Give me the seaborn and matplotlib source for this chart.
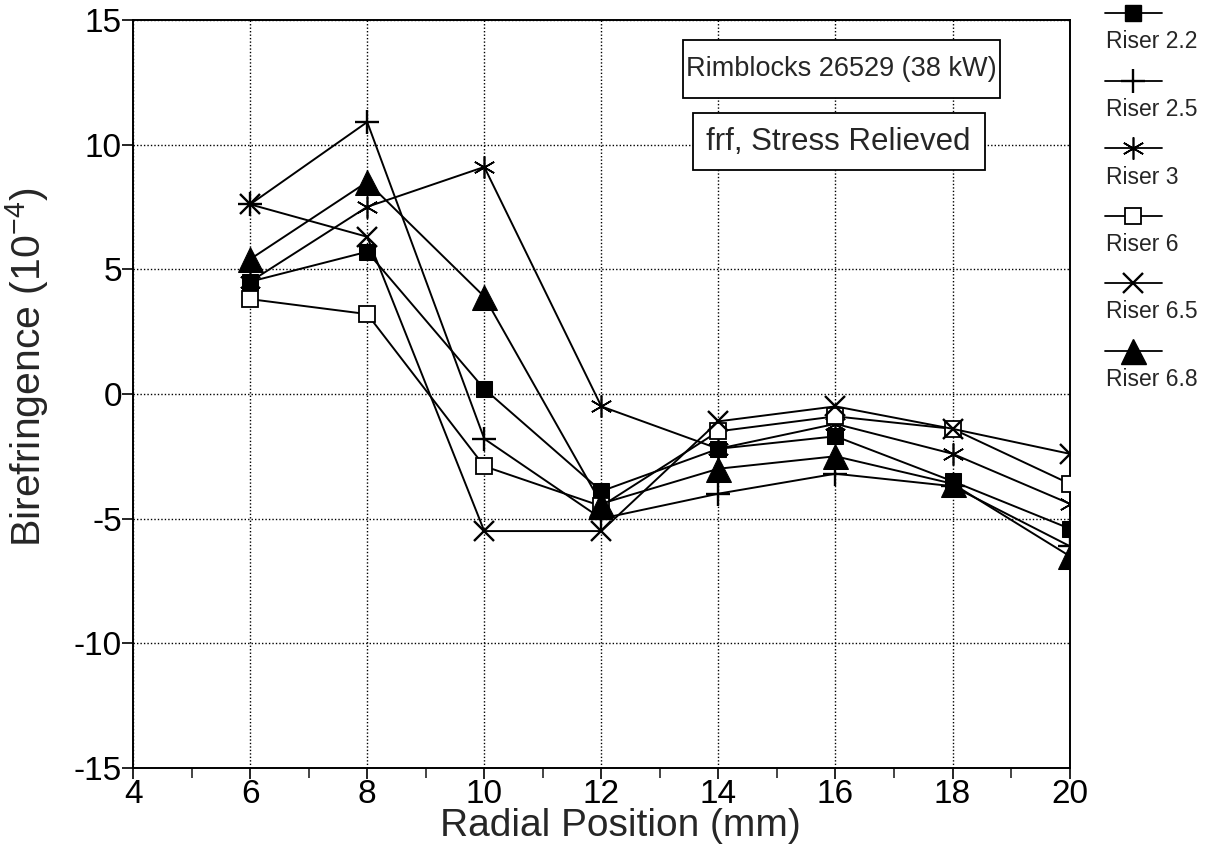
import matplotlib
matplotlib.use("Agg")
import matplotlib.pyplot as plt
from matplotlib.lines import Line2D
from matplotlib.patches import Rectangle
from matplotlib.ticker import MultipleLocator
import seaborn as sns

sns.set_theme(style="white")
plt.rcParams['font.family'] = ['Liberation Sans', 'DejaVu Sans']
plt.rcParams['mathtext.fontset'] = 'custom'
plt.rcParams['mathtext.rm'] = 'Liberation Sans'
plt.rcParams['mathtext.it'] = 'Liberation Sans'
plt.rcParams['axes.unicode_minus'] = False

# ---- data ----
radial_mm = [6, 8, 10, 12, 14, 16, 18, 20]
riser_2_2 = [4.5, 5.7, 0.2, -3.9, -2.2, -1.7, -3.5, -5.4]
riser_2_5 = [7.6, 10.9, -1.8, -5.0, -4.0, -3.2, -3.7, -6.1]
riser_3 = [4.5, 7.5, 9.1, -0.5, -2.2, -1.2, -2.4, -4.4]
riser_6 = [3.8, 3.2, -2.9, -4.5, -1.5, -0.9, -1.4, -3.6]
riser_6_5 = [7.6, 6.3, -5.5, -5.5, -1.1, -0.5, -1.4, -2.4]
riser_6_8 = [5.4, 8.5, 3.9, -4.4, -3.0, -2.5, -3.6, -6.5]
series_names = ["Riser 2.2", "Riser 2.5", "Riser 3", "Riser 6", "Riser 6.5", "Riser 6.8"]
x_ticks = [4, 6, 8, 10, 12, 14, 16, 18, 20]
y_ticks = [-15, -10, -5, 0, 5, 10, 15]

series_vals = [riser_2_2, riser_2_5, riser_3, riser_6, riser_6_5, riser_6_8]
styles = [
    dict(marker='s', markersize=11, markerfacecolor='black', markeredgecolor='black'),
    dict(marker='+', markersize=17, markeredgewidth=1.7, markeredgecolor='black'),
    dict(marker=(6, 2, 0), markersize=16, markeredgewidth=1.2, markeredgecolor='black'),
    dict(marker='s', markersize=11, markerfacecolor='white', markeredgecolor='black', markeredgewidth=1.3),
    dict(marker='x', markersize=14, markeredgewidth=1.7, markeredgecolor='black'),
    dict(marker='^', markersize=18, markerfacecolor='black', markeredgecolor='black'),
]

fig = plt.figure(figsize=(12.21, 8.61), dpi=100)
ax = fig.add_axes([0.109, 0.108, 0.767, 0.869])

for name, vals, st in zip(series_names, series_vals, styles):
    sns.lineplot(x=radial_mm, y=vals, ax=ax, color='black', linewidth=1.4,
                 legend=False, zorder=3, **st)

ax.set_xlim(4, 20)
ax.set_ylim(-15, 15)
ax.set_xticks(x_ticks)
ax.set_yticks(y_ticks)
ax.xaxis.set_minor_locator(MultipleLocator(1))
ax.tick_params(axis='both', which='major', direction='out', length=8, width=1.2,
               labelsize=24, colors='black', bottom=True, left=True, pad=0)
ax.tick_params(axis='x', which='minor', direction='out', length=7, width=1.2, bottom=True)
ax.grid(True, which='major', linestyle=(0, (1, 1.5)), color='black', linewidth=1.0)
for s in ax.spines.values():
    s.set_color('black')
    s.set_linewidth(1.4)
ax.set_facecolor('white')

ax.set_xlabel("Radial Position (mm)", fontsize=28)
ax.set_ylabel("Birefringence (10$^{-4}$)", fontsize=29.5)
ax.xaxis.set_label_coords(0.52, -0.054)
ax.yaxis.set_label_coords(-0.088, 0.535)

# annotation boxes
ax.add_patch(Rectangle((13.39, 11.87), 18.81 - 13.39, 14.2 - 11.87, facecolor='white',
                       edgecolor='black', linewidth=1.3, zorder=5))
ax.add_patch(Rectangle((13.56, 8.98), 18.55 - 13.56, 11.27 - 8.98, facecolor='white',
                       edgecolor='black', linewidth=1.3, zorder=5))
ax.text(16.1, 13.03, "Rimblocks 26529 (38 kW)", fontsize=19.5, ha='center', va='center', zorder=6)
ax.text(16.05, 10.1, "frf, Stress Relieved", fontsize=22.5, ha='center', va='center', zorder=6)

# ---- legend (handle above label) ----
W, H = 1221, 861
for i, (name, st) in enumerate(zip(series_names, styles)):
    ym = 13 + i * 67.5
    yt = 42 + i * 67.5
    fig.add_artist(Line2D([1105 / W, 1162 / W], [1 - ym / H, 1 - ym / H],
                          transform=fig.transFigure, color='black', linewidth=1.3))
    fig.add_artist(Line2D([1133 / W], [1 - ym / H], transform=fig.transFigure,
                          color='black', linestyle='none', **st))
    fig.text(1106 / W, 1 - yt / H, name, fontsize=16.5, ha='left', va='center')

fig.savefig("out.png", dpi=100, facecolor='white')
